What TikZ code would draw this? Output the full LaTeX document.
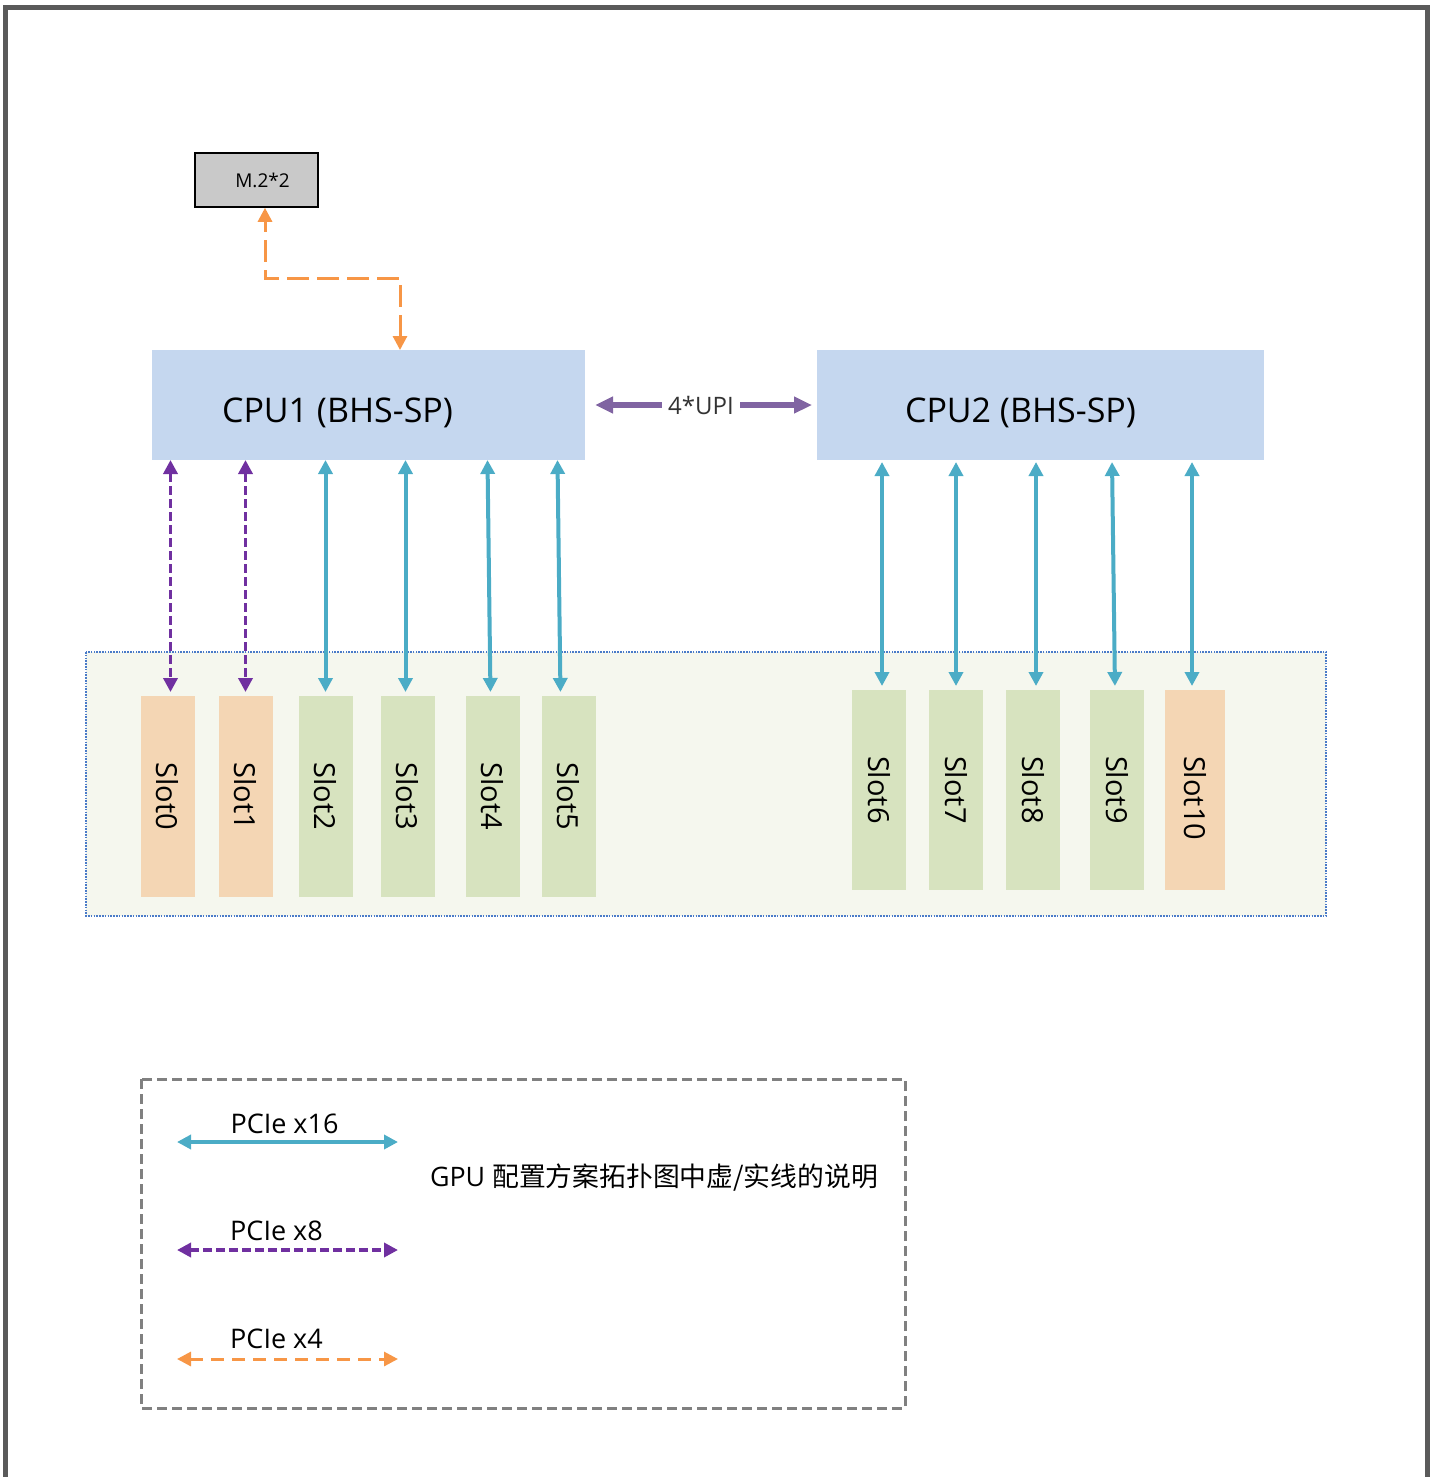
\documentclass[tikz,border=0pt]{standalone}
\usepackage{fontspec}
\usepackage{graphicx}
\setmainfont{Open Sans}
\newfontfamily\cjk{Noto Sans CJK SC}
\usepackage{tikz}
\usetikzlibrary{positioning,arrows.meta}
\definecolor{cpublue}{HTML}{C5D7EF}
\definecolor{slotorange}{HTML}{F4D6B4}
\definecolor{slotgreen}{HTML}{D7E3BF}
\definecolor{areafill}{HTML}{F5F7EE}
\definecolor{areablue}{HTML}{4A7BC8}
\definecolor{linkblue}{HTML}{4BACC6}
\definecolor{linkpurple}{HTML}{7030A0}
\definecolor{upipurple}{HTML}{8064A2}
\definecolor{linkorange}{HTML}{F79646}
\definecolor{framegray}{HTML}{5A5A5A}
\newcommand{\slotlabel}[1]{\rotatebox{-90}{\makebox[34pt][l]{#1}}}

\begin{document}
\begin{tikzpicture}[
    x=0.5pt, y=-0.5pt,
    cpu node/.style={draw=none, fill=cpublue, minimum height=55pt, inner sep=0pt, outer sep=0pt,
      font=\fontsize{17}{20}\selectfont},
    slot node/.style={draw=none, minimum width=27pt, minimum height=100.5pt, inner sep=0pt,
      outer sep=0pt, font=\fontsize{14.5}{17}\selectfont},
    x16 link/.style={draw=linkblue, line width=2pt,
      arrows={Triangle[length=7pt,width=7pt]-Triangle[length=7pt,width=7pt]}},
    x8 link/.style={draw=linkpurple, line width=1.9pt, dash pattern=on 4.5pt off 2pt,
      arrows={Triangle[length=7pt,width=7pt]-Triangle[length=7pt,width=7pt]}},
    x4 link/.style={draw=linkorange, line width=1.5pt,
      arrows={Triangle[length=7pt,width=7pt]-Triangle[length=7pt,width=7pt]}},
    upi link/.style={draw=upipurple, line width=3pt,
      arrows={Triangle[length=9pt,width=8pt]-Triangle[length=9pt,width=8pt]}},
    legend text/.style={font=\fontsize{13.5}{16}\selectfont, inner sep=1pt}
    ]

    \useasboundingbox (0,0) rectangle (1437,1477);
    % outer frame, open at the bottom
    \draw[framegray, line width=2.5pt] (5,1477) -- (5,8) -- (1427,8) -- (1427,1477);

    % slot area
    \draw[areablue, fill=areafill, line width=0.8pt, dash pattern=on 0.8pt off 0.6pt]
      (86,652) rectangle (1326,916);

    \node[slot node, fill=slotorange] (slot0) at (167.5,796.5) {\slotlabel{Slot0}};
    \node[slot node, fill=slotorange] (slot1) [right=12pt of slot0] {\slotlabel{Slot1}};
    \node[slot node, fill=slotgreen] (slot2) [right=13pt of slot1] {\slotlabel{Slot2}};
    \node[slot node, fill=slotgreen] (slot3) [right=14pt of slot2] {\slotlabel{Slot3}};
    \node[slot node, fill=slotgreen] (slot4) [right=15.5pt of slot3] {\slotlabel{Slot4}};
    \node[slot node, fill=slotgreen] (slot5) [right=11pt of slot4] {\slotlabel{Slot5}};

    \node[slot node, fill=slotgreen, minimum height=100pt] (slot6) at (879,790) {\slotlabel{Slot6}};
    \node[slot node, fill=slotgreen, minimum height=100pt] (slot7) [right=11.5pt of slot6] {\slotlabel{Slot7}};
    \node[slot node, fill=slotgreen, minimum height=100pt] (slot8) [right=11.5pt of slot7] {\slotlabel{Slot8}};
    \node[slot node, fill=slotgreen, minimum height=100pt] (slot9) [right=15pt of slot8] {\slotlabel{Slot9}};
    \node[slot node, fill=slotorange, minimum height=100pt, minimum width=30pt] (slot10) [right=10.5pt of slot9] {\slotlabel{Slot10}};

    % CPUs and M.2
    \node[cpu node, minimum width=216.5pt] (cpu1) at (368.5,405) {\rule{0pt}{20pt}CPU1 (BHS-SP)\kern31pt};
    \node[cpu node, minimum width=223.5pt] (cpu2) at (1040.5,405) {\rule{0pt}{20pt}CPU2 (BHS-SP)\kern20pt};
    \node[draw=black, fill=black!21, line width=0.8pt, minimum width=61.5pt, minimum height=27pt,
      inner sep=0pt, font=\fontsize{9.5}{11}\selectfont] (m2) at (256.5,180) {\kern6pt M.2*2};

    \draw[upi link, shorten <=5pt, shorten >=2.5pt] (cpu1.east) -- (cpu2.west)
      node[midway, fill=white, inner xsep=3pt, font=\fontsize{12}{14}\selectfont, text=black!80] (upi) {4*UPI};

    \draw[x4 link, dash pattern=on 11pt off 4pt] ([xshift=15.75pt]cpu1.north) -- ++(0,-72) -| ([xshift=4.25pt]m2.south);

    % CPU1 to slots
    \draw[x8 link, shorten >=2pt] ([xshift=1.5pt]slot0.north |- cpu1.south) -- ([xshift=1.5pt]slot0.north);
    \draw[x8 link, shorten >=2pt] (slot1.north |- cpu1.south) -- (slot1.north);
    \draw[x16 link, shorten >=2pt] (slot2.north |- cpu1.south) -- (slot2.north);
    \draw[x16 link, shorten >=2pt] ([xshift=-1pt]slot3.north |- cpu1.south) -- ([xshift=-1pt]slot3.north);
    \draw[x16 link, shorten >=2pt] ([xshift=-2.5pt]slot4.north |- cpu1.south) -- ([xshift=-1pt]slot4.north);
    \draw[x16 link, shorten >=2pt] ([xshift=-5.5pt]slot5.north |- cpu1.south) -- ([xshift=-4pt]slot5.north);

    % CPU2 to slots
    \draw[x16 link, shorten <=1pt, shorten >=2pt] ([xshift=1.5pt]slot6.north |- cpu2.south) -- ([xshift=1.5pt]slot6.north);
    \draw[x16 link, shorten <=1pt, shorten >=2pt] (slot7.north |- cpu2.south) -- (slot7.north);
    \draw[x16 link, shorten <=1pt, shorten >=2pt] ([xshift=1.5pt]slot8.north |- cpu2.south) -- ([xshift=1.5pt]slot8.north);
    \draw[x16 link, shorten <=1pt, shorten >=2pt] ([xshift=-2.5pt]slot9.north |- cpu2.south) -- ([xshift=-1pt]slot9.north);
    \draw[x16 link, shorten <=1pt, shorten >=2pt] ([xshift=-1.5pt]slot10.north |- cpu2.south) -- ([xshift=-1.5pt]slot10.north);

    % legend
    \draw[black!50, line width=1.5pt, dash pattern=on 5pt off 2.5pt] (141,1079) rectangle (905,1408);

    \coordinate (l16a) at (177,1142);
    \coordinate (l16b) at (398,1142);
    \coordinate (l8a) at (177,1250);
    \coordinate (l8b) at (398,1250);
    \coordinate (l4a) at (177,1359);
    \coordinate (l4b) at (398,1359);

    \draw[x16 link] (l16a) -- (l16b);
    \draw[x8 link] (l8a) -- (l8b);
    \draw[x4 link, dash pattern=on 6.5pt off 4pt] (l4a) -- (l4b);

    \node[legend text] (lab16) at (284.5,1124) {PCIe x16};
    \node[legend text] (lab8) at (276.5,1231) {PCIe x8};
    \node[legend text] (lab4) at (276.5,1339) {PCIe x4};
    \node[font=\fontsize{13.4}{16}\selectfont] (note) at (654,1178) {GPU {\cjk 配置方案拓扑图中虚/实线的说明}};
  \end{tikzpicture}
\end{document}
